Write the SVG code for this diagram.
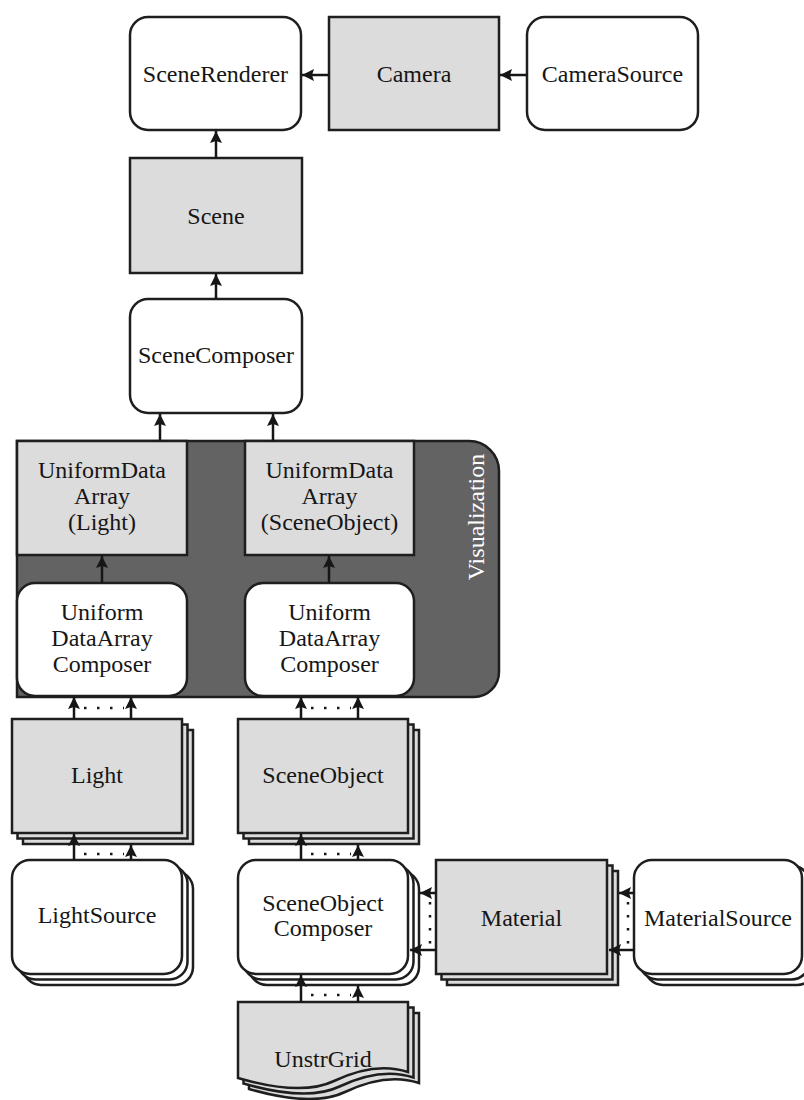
<svg xmlns="http://www.w3.org/2000/svg" width="804" height="1100" viewBox="0 0 804 1100">
  <style>
    .box { fill: #ffffff; stroke: #1e1e1e; stroke-width: 2.5; }
    .data { fill: #dcdcdc; stroke: #1e1e1e; stroke-width: 2.5; }
    .panel { fill: #636363; stroke: #1e1e1e; stroke-width: 2.5; }
    .lbl { font-family: "Liberation Serif", "Times New Roman", serif; font-size: 24px; fill: #161616; text-anchor: middle; }
    .vlbl { font-family: "Liberation Serif", "Times New Roman", serif; font-size: 24px; fill: #ffffff; text-anchor: middle; }
    .edge { fill: none; stroke: #161616; stroke-width: 2.5; marker-end: url(#head); }
    .dots { fill: none; stroke: #161616; stroke-width: 2.5; stroke-dasharray: 2.5 10.5; }
  </style>
  <defs>
    <marker id="head" markerUnits="userSpaceOnUse" markerWidth="13" markerHeight="12" refX="12" refY="6" orient="auto">
      <path d="M0,0 L12,6 L0,12 L2,6 Z" fill="#161616"/>
    </marker>
  </defs>

  <!-- Visualization panel behind the uniform-data nodes -->
  <g id="visualization">
    <path class="panel" d="M17,441 H469 A30,30 0 0 1 499,471 V672 A25,25 0 0 1 474,697 H17 Z"/>
    <text class="vlbl" transform="translate(484,517) rotate(-90)">Visualization</text>
  </g>

  <!-- Top row -->
  <g id="scene-renderer">
    <rect class="box" x="130" y="17" width="171" height="113" rx="18"/>
    <text class="lbl" x="215.5" y="82">SceneRenderer</text>
  </g>
  <g id="camera">
    <rect class="data" x="329" y="17" width="170" height="113"/>
    <text class="lbl" x="414" y="82">Camera</text>
  </g>
  <g id="camera-source">
    <rect class="box" x="527" y="17" width="171" height="113" rx="18"/>
    <text class="lbl" x="612.5" y="82">CameraSource</text>
  </g>

  <g id="scene">
    <rect class="data" x="130" y="158" width="172" height="115"/>
    <text class="lbl" x="216" y="224">Scene</text>
  </g>
  <g id="scene-composer">
    <rect class="box" x="130" y="299" width="172" height="114" rx="18"/>
    <text class="lbl" x="216" y="363">SceneComposer</text>
  </g>

  <!-- Uniform data arrays -->
  <g id="uda-light">
    <rect class="data" x="17" y="441" width="170" height="114"/>
    <text class="lbl" x="102" y="478">UniformData</text>
    <text class="lbl" x="102" y="504">Array</text>
    <text class="lbl" x="102" y="530">(Light)</text>
  </g>
  <g id="uda-sceneobject">
    <rect class="data" x="245" y="441" width="169" height="114"/>
    <text class="lbl" x="329.5" y="478">UniformData</text>
    <text class="lbl" x="329.5" y="504">Array</text>
    <text class="lbl" x="329.5" y="530">(SceneObject)</text>
  </g>
  <g id="udac-light">
    <rect class="box" x="17" y="583" width="170" height="113" rx="18"/>
    <text class="lbl" x="102" y="620">Uniform</text>
    <text class="lbl" x="102" y="646">DataArray</text>
    <text class="lbl" x="102" y="672">Composer</text>
  </g>
  <g id="udac-sceneobject">
    <rect class="box" x="245" y="583" width="169" height="113" rx="18"/>
    <text class="lbl" x="329.5" y="620">Uniform</text>
    <text class="lbl" x="329.5" y="646">DataArray</text>
    <text class="lbl" x="329.5" y="672">Composer</text>
  </g>

  <!-- Stacked collections -->
  <g id="light">
    <rect class="data" x="23" y="730" width="170" height="114"/>
    <rect class="data" x="17.5" y="724.5" width="170" height="114"/>
    <rect class="data" x="12" y="719" width="170" height="114"/>
    <text class="lbl" x="97" y="783">Light</text>
  </g>
  <g id="scene-object">
    <rect class="data" x="249" y="730" width="170" height="114"/>
    <rect class="data" x="243.5" y="724.5" width="170" height="114"/>
    <rect class="data" x="238" y="719" width="170" height="114"/>
    <text class="lbl" x="323" y="783">SceneObject</text>
  </g>
  <g id="light-source">
    <rect class="box" x="23" y="871" width="170" height="114" rx="18"/>
    <rect class="box" x="17.5" y="865.5" width="170" height="114" rx="18"/>
    <rect class="box" x="12" y="860" width="170" height="114" rx="18"/>
    <text class="lbl" x="97" y="923">LightSource</text>
  </g>
  <g id="scene-object-composer">
    <rect class="box" x="249" y="871" width="170" height="114" rx="18"/>
    <rect class="box" x="243.5" y="865.5" width="170" height="114" rx="18"/>
    <rect class="box" x="238" y="860" width="170" height="114" rx="18"/>
    <text class="lbl" x="323" y="911">SceneObject</text>
    <text class="lbl" x="323" y="936">Composer</text>
  </g>
  <g id="material">
    <rect class="data" x="447" y="871" width="171" height="114"/>
    <rect class="data" x="441.5" y="865.5" width="171" height="114"/>
    <rect class="data" x="436" y="860" width="171" height="114"/>
    <text class="lbl" x="521.5" y="926">Material</text>
  </g>
  <g id="material-source">
    <rect class="box" x="645" y="871" width="170" height="114" rx="18"/>
    <rect class="box" x="639.5" y="865.5" width="170" height="114" rx="18"/>
    <rect class="box" x="634" y="860" width="168" height="114" rx="18"/>
    <text class="lbl" x="718" y="926">MaterialSource</text>
  </g>
  <g id="unstr-grid">
    <path class="data" d="M249,1013 H419 V1083 C395,1075 370,1080 345,1092 C318,1105 280,1098 249,1089 Z"/>
    <path class="data" d="M243.5,1007.5 H413.5 V1077.5 C389.5,1069.5 364.5,1074.5 339.5,1086.5 C312.5,1099.5 274.5,1092.5 243.5,1083.5 Z"/>
    <path class="data" d="M238,1002 H408 V1072 C384,1064 359,1069 334,1081 C307,1094 269,1087 238,1078 Z"/>
    <text class="lbl" x="323" y="1067">UnstrGrid</text>
  </g>

  <!-- Connectors -->
  <g id="connectors">
    <line class="edge" x1="527" y1="75" x2="500" y2="75"/>
    <line class="edge" x1="329" y1="75" x2="302" y2="75"/>
    <line class="edge" x1="216" y1="158" x2="216" y2="131"/>
    <line class="edge" x1="216" y1="299" x2="216" y2="274"/>
    <line class="edge" x1="160" y1="441" x2="160" y2="414"/>
    <line class="edge" x1="273" y1="441" x2="273" y2="414"/>
    <line class="edge" x1="102" y1="583" x2="102" y2="556"/>
    <line class="edge" x1="329" y1="583" x2="329" y2="556"/>

    <!-- Light collection to its composer -->
    <line class="edge" x1="74" y1="719" x2="74" y2="697"/>
    <line class="edge" x1="131" y1="719" x2="131" y2="697"/>
    <line class="dots" x1="84" y1="708" x2="124" y2="708"/>
    <!-- SceneObject collection to its composer -->
    <line class="edge" x1="301" y1="719" x2="301" y2="697"/>
    <line class="edge" x1="358" y1="719" x2="358" y2="697"/>
    <line class="dots" x1="311" y1="708" x2="351" y2="708"/>

    <!-- LightSource to Light -->
    <line class="edge" x1="74" y1="860" x2="74" y2="834"/>
    <line class="edge" x1="131" y1="860" x2="131" y2="845"/>
    <line class="dots" x1="84" y1="854" x2="124" y2="854"/>
    <!-- SceneObjectComposer to SceneObject -->
    <line class="edge" x1="301" y1="860" x2="301" y2="834"/>
    <line class="edge" x1="358" y1="860" x2="358" y2="845"/>
    <line class="dots" x1="311" y1="854" x2="351" y2="854"/>
    <!-- UnstrGrid to SceneObjectComposer -->
    <line class="edge" x1="301" y1="1002" x2="301" y2="975"/>
    <line class="edge" x1="358" y1="1002" x2="358" y2="986"/>
    <line class="dots" x1="311" y1="995" x2="351" y2="995"/>

    <!-- Material to SceneObjectComposer -->
    <line class="edge" x1="436" y1="893" x2="420" y2="893"/>
    <line class="edge" x1="436" y1="950" x2="410" y2="950"/>
    <line class="dots" x1="430" y1="902" x2="430" y2="944"/>
    <!-- MaterialSource to Material -->
    <line class="edge" x1="634" y1="893" x2="619" y2="893"/>
    <line class="edge" x1="634" y1="950" x2="609" y2="950"/>
    <line class="dots" x1="628" y1="902" x2="628" y2="944"/>
  </g>
</svg>
